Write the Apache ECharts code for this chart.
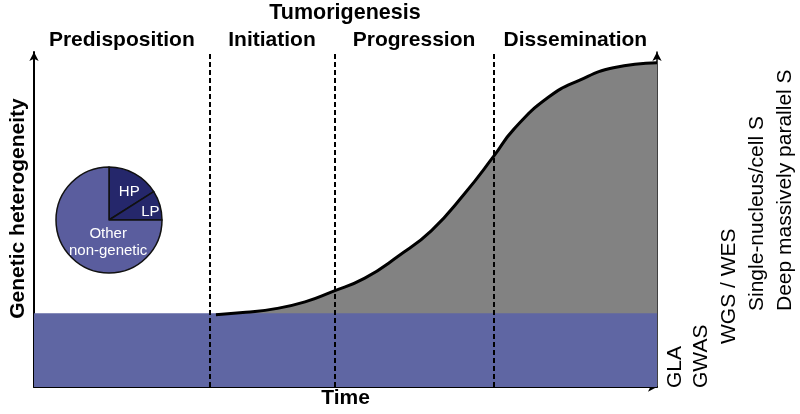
<!DOCTYPE html>
<html>
<head>
<meta charset="utf-8">
<script src="https://cdn.jsdelivr.net/npm/echarts@6/dist/echarts.min.js"></script>
<style>
html,body{margin:0;padding:0;background:#fff;}
#chart{width:800px;height:414px;}
</style>
</head>
<body>
<div id="chart"></div>
<script>
// ---- data ----
var curveX = [29.2, 34.0, 38.8, 43.5, 47.8, 53.1, 58.5, 63.8, 69.1, 73.8, 77.0, 82.5, 87.7, 93.0, 100];
var curveY = [21.6, 22.3, 23.4, 25.4, 28.4, 32.5, 39.1, 46.7, 57.7, 68.9, 76.9, 86.4, 91.7, 95.3, 96.8];
var bandLevel = 22;
var phaseNames = ['Predisposition', 'Initiation', 'Progression', 'Dissemination'];
var phaseBounds = [0, 28.2, 48.2, 73.8, 100];
var pieNames = ['HP', 'LP', 'Other non-genetic'];
var pieValues = [16, 9, 75];
var methods = ['GLA', 'GWAS', 'WGS / WES', 'Single-nucleus/cell S', 'Deep massively parallel S'];
var groupTitle = 'Tumorigenesis';
var xName = 'Time';
var yName = 'Genetic heterogeneity';
var rightName = 'Analytical methods';

// ---- build ----
var FONT = '"Liberation Sans", Arial, Helvetica, sans-serif';
var curveData = curveX.map(function (x, i) { return [x, curveY[i]]; });
var dashData = phaseBounds.slice(1, -1).map(function (x) { return { xAxis: x }; });
var areaData = phaseNames.map(function (n, i) {
  return [{ xAxis: phaseBounds[i], name: n }, { xAxis: phaseBounds[i + 1] }];
});
var pieData = pieNames.map(function (n, i) {
  return { name: n, value: pieValues[i], itemStyle: { color: i < 2 ? '#25276b' : '#5a5d9e' } };
});
var pieOffsets = [[6, -2], [13, 0], [20, 1]];

var methodPos = [[675, 388], [701, 388], [729, 344], [757, 311], [785, 311]];
var graphics = [{
  type: 'text', x: 345, y: 13,
  style: { text: groupTitle, font: 'bold 21.5px ' + FONT, fill: '#000', textAlign: 'center', textVerticalAlign: 'middle' }
}, {
  type: 'text', x: 643, y: 222, rotation: Math.PI / 2,
  style: { text: rightName, font: 'bold 21.5px ' + FONT, fill: '#000', textAlign: 'center', textVerticalAlign: 'middle' }
}];
methods.forEach(function (m, i) {
  graphics.push({
    type: 'text', x: methodPos[i][0], y: methodPos[i][1], rotation: Math.PI / 2,
    style: { text: m, font: '21px ' + FONT, fill: '#000', textAlign: 'left', textVerticalAlign: 'middle' }
  });
});

var axisLineStyle = { color: '#000', width: 2 };
var chart = echarts.init(document.getElementById('chart'), null, { renderer: 'canvas' });
chart.setOption({
  animation: false,
  backgroundColor: '#fff',
  grid: { left: 30, right: 143, top: 52, bottom: 24 },
  xAxis: {
    type: 'value', min: 0, max: 100,
    name: xName, nameLocation: 'middle', nameGap: 1,
    nameTextStyle: { fontFamily: FONT, fontWeight: 'bold', fontSize: 21, color: '#000', verticalAlign: 'top' },
    axisLine: { show: true, lineStyle: axisLineStyle, symbol: ['none', 'arrow'], symbolSize: [7, 9] },
    axisTick: { show: false }, axisLabel: { show: false }, splitLine: { show: false }
  },
  yAxis: [{
    type: 'value', min: 0, max: 100, position: 'left',
    name: yName, nameLocation: 'middle', nameGap: 5, nameRotate: 90,
    nameTextStyle: { fontFamily: FONT, fontWeight: 'bold', fontSize: 21, color: '#000', padding: [0, 0, 0, 22] },
    axisLine: { show: true, lineStyle: axisLineStyle, symbol: ['none', 'arrow'], symbolSize: [7, 9] },
    axisTick: { show: false }, axisLabel: { show: false }, splitLine: { show: false }
  }, {
    type: 'value', min: 0, max: 100, position: 'right',
    axisLine: { show: true, lineStyle: { color: '#000', width: 1.5 }, symbol: ['none', 'arrow'], symbolSize: [7, 9] },
    axisTick: { show: false }, axisLabel: { show: false }, splitLine: { show: false }
  }],
  series: [{
    type: 'line', z: 2,
    data: curveData, smooth: 0.5, showSymbol: false,
    lineStyle: { width: 0 },
    areaStyle: { color: '#828282', opacity: 1 },
    markArea: {
      silent: true,
      itemStyle: { color: 'rgba(0,0,0,0)' },
      label: { show: true, position: 'top', distance: 1, fontFamily: FONT, fontWeight: 'bold', fontSize: 21, color: '#000' },
      data: areaData
    }
  }, {
    type: 'line', z: 3,
    data: [[0, bandLevel], [100, bandLevel]], showSymbol: false,
    lineStyle: { width: 0, color: '#5f66a3' },
    areaStyle: { color: '#5f66a3', opacity: 1 },
    markLine: {
      silent: true, symbol: 'none', label: { show: false },
      lineStyle: { color: '#000', width: 2, type: [5, 3] },
      data: dashData
    }
  }, {
    type: 'line', z: 4,
    data: curveData, smooth: 0.5, showSymbol: false,
    lineStyle: { color: '#000', width: 3 }
  }, {
    type: 'pie', center: [109, 220], radius: 53, startAngle: 90, clockwise: true,
    data: pieData, silent: true,
    itemStyle: { borderColor: '#111', borderWidth: 1.5 },
    label: {
      show: true, position: 'inside', color: '#fff', fontFamily: FONT, fontSize: 15, lineHeight: 17,
      formatter: function (p) { return p.name.replace(' ', '\n'); }
    },
    labelLine: { show: false },
    labelLayout: function (p) { return { dx: pieOffsets[p.dataIndex][0], dy: pieOffsets[p.dataIndex][1] }; }
  }],
  graphic: graphics
});
</script>
</body>
</html>
